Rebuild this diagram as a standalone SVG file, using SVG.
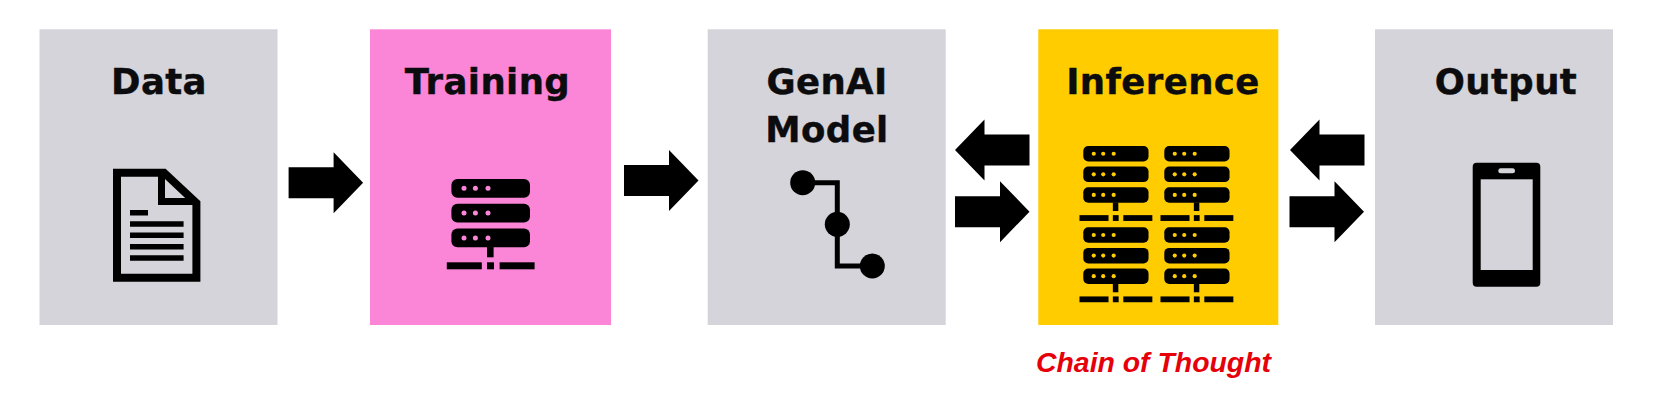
<svg xmlns="http://www.w3.org/2000/svg" xmlns:xlink="http://www.w3.org/1999/xlink" width="1660" height="420" viewBox="0 0 1660 420">
  <style>
    .grey { fill: #d4d4da; }
    .pink { fill: #fb86d8; }
    .yellow { fill: #ffcc00; }
    .label { font-family: "DejaVu Sans", sans-serif; font-weight: 700; font-size: 35.5px; letter-spacing: .4px; fill: #0c0c0e; stroke: #0c0c0e; stroke-width: .4px; text-anchor: middle; }
    .note { font-family: "Liberation Sans", Arial, sans-serif; font-weight: 700; font-style: italic; font-size: 28.4px; fill: #e5000a; text-anchor: middle; }
    .ink { fill: #000; }
    .line { fill: none; stroke: #000; }
  </style>
  <defs>
    <polygon id="arrow" points="0,-15.5 45,-15.5 45,-30.5 74.5,0 45,30.5 45,15.5 0,15.5"/>
    <g id="srv">
      <rect class="ink" x="0" y="0" width="78.6" height="18.7" rx="6"/>
      <rect class="ink" x="0" y="24.8" width="78.6" height="18.7" rx="6"/>
      <rect class="ink" x="0" y="49.6" width="78.6" height="18.7" rx="6"/>
      <g fill="currentColor">
        <circle cx="12.6" cy="9.3" r="2.5"/><circle cx="24" cy="9.3" r="2.5"/><circle cx="36.6" cy="9.3" r="2.5"/>
        <circle cx="12.6" cy="34.1" r="2.5"/><circle cx="24" cy="34.1" r="2.5"/><circle cx="36.6" cy="34.1" r="2.5"/>
        <circle cx="12.6" cy="58.9" r="2.5"/><circle cx="24" cy="58.9" r="2.5"/><circle cx="36.6" cy="58.9" r="2.5"/>
      </g>
      <rect class="ink" x="35.6" y="68" width="6.6" height="10.3"/>
      <rect class="ink" x="-4.6" y="83.3" width="35" height="7"/>
      <rect class="ink" x="35.6" y="83.3" width="7" height="7"/>
      <rect class="ink" x="48.2" y="83.3" width="35" height="7"/>
    </g>
  </defs>
  <rect width="1660" height="420" fill="#fff"/>

  <g id="node-data">
    <rect class="grey" x="39.5" y="29.3" width="238" height="295.7"/>
    <text class="label" x="159" y="94">Data</text>
    <path class="line" stroke-width="8" d="M117,172.7H164L196.4,203V277.7H117Z"/>
    <path class="line" stroke-width="7" d="M161.5,173V201.5H196"/>
    <path class="line" stroke-width="5.5" d="M130,212.7H148M130,224H183.6M130,235.3H183.6M130,246.7H183.6M130,258H183.6"/>
  </g>

  <g id="node-training">
    <rect class="pink" x="370" y="29.3" width="241" height="295.7"/>
    <text class="label" x="487.5" y="94">Training</text>
    <use xlink:href="#srv" href="#srv" color="#fb86d8" transform="translate(451.4,179)"/>
  </g>

  <g id="node-genai-model">
    <rect class="grey" x="707.7" y="29.3" width="238" height="295.7"/>
    <text class="label" x="827" y="94">GenAI</text>
    <text class="label" x="827" y="142">Model</text>
    <path class="line" stroke-width="5" d="M802.7,182.7H837.3V266H872.3"/>
    <circle class="ink" cx="802.7" cy="182.7" r="12.5"/>
    <circle class="ink" cx="837.3" cy="224.3" r="12.5"/>
    <circle class="ink" cx="872.3" cy="266" r="12.5"/>
  </g>

  <g id="node-inference">
    <rect class="yellow" x="1038.3" y="29.3" width="240" height="295.7"/>
    <text class="label" x="1163" y="94">Inference</text>
    <use xlink:href="#srv" href="#srv" color="#ffcc00" transform="translate(1083.3,146) scale(.83)"/>
    <use xlink:href="#srv" href="#srv" color="#ffcc00" transform="translate(1164.3,146) scale(.83)"/>
    <use xlink:href="#srv" href="#srv" color="#ffcc00" transform="translate(1083.3,227.3) scale(.83)"/>
    <use xlink:href="#srv" href="#srv" color="#ffcc00" transform="translate(1164.3,227.3) scale(.83)"/>
  </g>

  <g id="node-output">
    <rect class="grey" x="1375" y="29.3" width="238" height="295.7"/>
    <text class="label" x="1506" y="94">Output</text>
    <rect class="ink" x="1472.7" y="162.7" width="67.6" height="124" rx="4"/>
    <rect class="grey" x="1480.7" y="179.3" width="52" height="90.7"/>
    <rect class="grey" x="1498.3" y="168.3" width="16.7" height="5" rx="2.5"/>
  </g>

  <g id="connectors">
    <use xlink:href="#arrow" href="#arrow" transform="translate(288.6,182.8)"/>
    <use xlink:href="#arrow" href="#arrow" transform="translate(624,180.5)"/>
    <use xlink:href="#arrow" href="#arrow" transform="translate(1029.5,150) scale(-1,1)"/>
    <use xlink:href="#arrow" href="#arrow" transform="translate(955,211.7)"/>
    <use xlink:href="#arrow" href="#arrow" transform="translate(1364.5,150) scale(-1,1)"/>
    <use xlink:href="#arrow" href="#arrow" transform="translate(1289.5,211.7)"/>
  </g>

  <text class="note" x="1153.5" y="372">Chain of Thought</text>
</svg>
